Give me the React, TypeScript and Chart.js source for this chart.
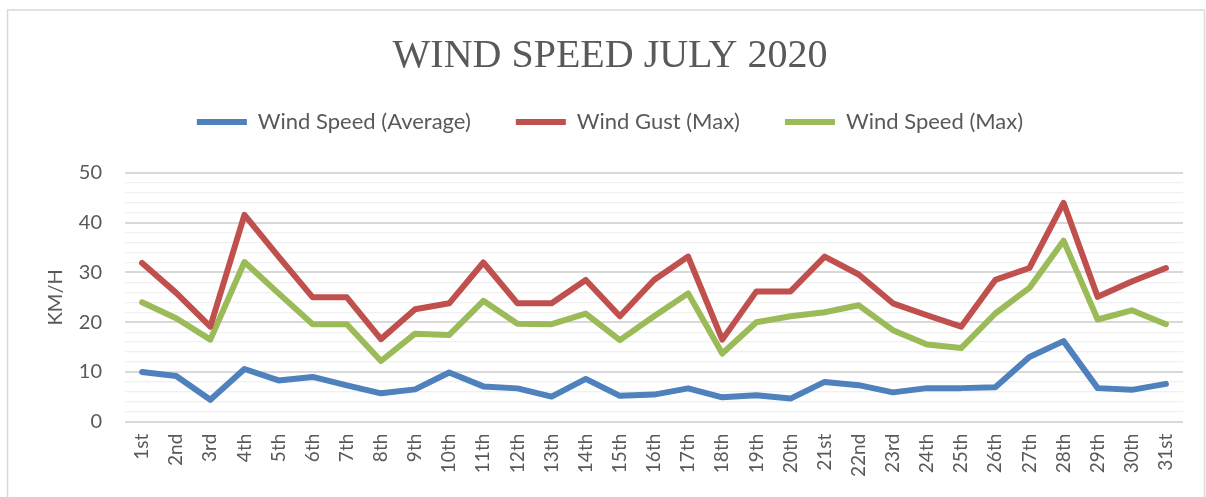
import React, { useEffect, useRef } from 'react';
import { Chart, registerables } from 'chart.js';

Chart.register(...registerables);

const days = [
  '1st', '2nd', '3rd', '4th', '5th', '6th', '7th', '8th', '9th', '10th',
  '11th', '12th', '13th', '14th', '15th', '16th', '17th', '18th', '19th', '20th',
  '21st', '22nd', '23rd', '24th', '25th', '26th', '27th', '28th', '29th', '30th', '31st',
];

const windSpeedAverage = [
  10.0, 9.2, 4.4, 10.6, 8.3, 9.0, 7.3, 5.7, 6.5, 9.9,
  7.1, 6.7, 5.05, 8.6, 5.2, 5.45, 6.7, 4.9, 5.3, 4.65,
  8.0, 7.35, 5.9, 6.75, 6.75, 6.95, 13.0, 16.2, 6.75, 6.4, 7.6,
];

const windGustMax = [
  31.9, 25.9, 19.1, 41.6, 33.2, 25.0, 25.0, 16.6, 22.6, 23.8,
  32.0, 23.8, 23.8, 28.5, 21.2, 28.5, 33.2, 16.5, 26.2, 26.2,
  33.2, 29.6, 23.8, 21.4, 19.1, 28.5, 30.9, 44.0, 25.1, 28.2, 30.9,
];

const windSpeedMax = [
  24.0, 20.8, 16.5, 32.1, 25.8, 19.6, 19.6, 12.2, 17.7, 17.45,
  24.3, 19.7, 19.6, 21.75, 16.4, 21.2, 25.8, 13.7, 20.0, 21.2,
  22.0, 23.4, 18.4, 15.5, 14.8, 21.75, 26.9, 36.4, 20.55, 22.4, 19.6,
];

const yMin = 0;
const yMax = 50;
const yMinorStep = 2;
const yMajorStep = 10;

const TEXT = '#595959';

const framePlugin = {
  id: 'frame',
  beforeDraw(chart: any) {
    const ctx = chart.ctx;
    ctx.save();
    ctx.fillStyle = '#ffffff';
    ctx.fillRect(0, 0, chart.width, chart.height);
    ctx.strokeStyle = '#d9d9d9';
    ctx.lineWidth = 1.5;
    ctx.strokeRect(7.5, 10, 1197, 520);
    ctx.restore();
  },
};

function lineDataset(label: string, data: number[], color: string) {
  return {
    label,
    data,
    borderColor: color,
    backgroundColor: color,
    borderWidth: 6,
    pointRadius: 0,
    pointHoverRadius: 0,
    borderCapStyle: 'round' as const,
    borderJoinStyle: 'round' as const,
    tension: 0,
    fill: false,
  };
}

export default function App() {
  const ref = useRef<HTMLCanvasElement | null>(null);

  useEffect(() => {
    if (!ref.current) return;
    const chart = new Chart(ref.current, {
      type: 'line',
      data: {
        labels: days,
        datasets: [
          lineDataset('Wind Speed (Average)', windSpeedAverage, '#4F81BD'),
          lineDataset('Wind Gust (Max)', windGustMax, '#C0504D'),
          lineDataset('Wind Speed (Max)', windSpeedMax, '#9BBB59'),
        ],
      },
      options: {
        responsive: false,
        animation: false,
        layout: { padding: { left: 37, right: 23, top: 0, bottom: 0 } },
        plugins: {
          title: {
            display: true,
            text: 'WIND SPEED JULY 2020',
            color: TEXT,
            font: { family: "'Liberation Serif', 'DejaVu Serif', serif", size: 40, weight: 'normal', lineHeight: 0.5 },
            padding: { top: 46, bottom: 0 },
          },
          legend: {
            position: 'top',
            labels: {
              usePointStyle: true,
              pointStyle: 'line',
              pointStyleWidth: 50,
              color: TEXT,
              font: { family: 'Lato', size: 22 },
              padding: 45,
            },
          },
          tooltip: { enabled: false },
        },
        scales: {
          x: {
            offset: true,
            grid: { display: false, drawTicks: false },
            border: { display: false },
            ticks: {
              color: TEXT,
              font: { family: 'Lato', size: 19 },
              minRotation: 90,
              maxRotation: 90,
              padding: 12,
              autoSkip: false,
            },
            afterFit: (s: any) => { s.height = 75.3; },
          },
          xTop: {
            type: 'category',
            axis: 'x',
            position: 'top',
            grid: { display: false, drawTicks: false },
            border: { display: false },
            ticks: { display: false },
            afterFit: (s: any) => { s.height = 30; },
          },
          y: {
            min: yMin,
            max: yMax,
            ticks: {
              stepSize: yMinorStep,
              autoSkip: false,
              callback: (v: any) => (Number(v) % yMajorStep === 0 ? String(v) : ''),
              padding: 23,
              color: TEXT,
              font: { family: 'Lato', size: 20 },
            },
            grid: {
              drawTicks: false,
              color: (c: any) => (c.tick && c.tick.value % yMajorStep === 0 ? '#d9d9d9' : '#f0f0f0'),
              lineWidth: (c: any) => (c.tick && c.tick.value % yMajorStep === 0 ? 2 : 1.3),
            },
            border: { display: false },
            title: {
              display: true,
              text: 'KM/H',
              color: TEXT,
              font: { family: 'Lato', size: 20 },
              padding: { top: 6.5, bottom: 0 },
            },
            afterFit: (s: any) => { s.width = 88; },
          },
        },
      } as any,
      plugins: [framePlugin],
    });
    return () => chart.destroy();
  }, []);

  return (
    <div style={{ position: 'absolute', left: 0, top: 0, width: 1206, height: 497 }}>
      <canvas ref={ref} width={1206} height={497} style={{ display: 'block', width: 1206, height: 497 }} />
    </div>
  );
}
